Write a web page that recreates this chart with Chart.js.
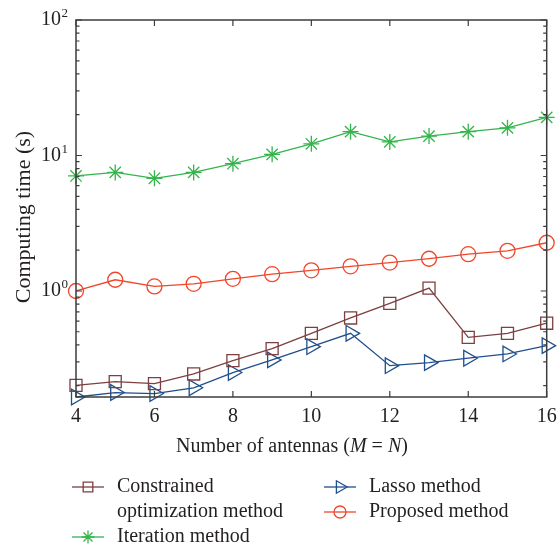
<!DOCTYPE html>
<html><head><meta charset="utf-8">
<script src="https://cdn.jsdelivr.net/npm/chart.js@4"></script>
<style>html,body{margin:0;padding:0;background:#fff}</style>
</head><body>
<canvas id="c" width="557" height="550" style="display:block"></canvas>
<script>
// ---- data ----
const antennas = [4, 5, 6, 7, 8, 9, 10, 11, 12, 13, 14, 15, 16];
const constrainedTime = [0.201, 0.214, 0.207, 0.244, 0.306, 0.375, 0.487, 0.632, 0.811, 1.05, 0.455, 0.487, 0.578];
const iterationTime = [7.06, 7.5, 6.79, 7.5, 8.7, 10.2, 12.2, 15.0, 12.6, 13.9, 15.0, 16.0, 19.1];
const lassoTime = [0.165, 0.178, 0.175, 0.193, 0.25, 0.31, 0.388, 0.487, 0.281, 0.296, 0.319, 0.343, 0.395];
const proposedTime = [1.0, 1.21, 1.08, 1.13, 1.23, 1.33, 1.42, 1.52, 1.62, 1.73, 1.87, 1.98, 2.27];
const xTicks = [4, 6, 8, 10, 12, 14, 16];
const yDecades = [1, 10, 100];
const seriesNames = [['Constrained', 'optimization method'], ['Iteration method'], ['Lasso method'], ['Proposed method']];

const FONT = '"Liberation Serif", "DejaVu Serif", serif';
const COL = { brown: '#7d3f40', green: '#34b54c', blue: '#1f4f8d', red: '#f0462b', axis: '#3c3c3c', text: '#231f20' };

function mk(label, data, color, style, radius, rot) {
  return {
    label, data: antennas.map((a, i) => ({ x: a, y: data[i] })),
    borderColor: color, backgroundColor: 'rgba(0,0,0,0)', borderWidth: 1.3,
    pointStyle: style, pointRadius: radius, pointRotation: rot || 0,
    pointBorderColor: color, pointBackgroundColor: 'rgba(0,0,0,0)', pointBorderWidth: 1.3,
    pointHoverRadius: radius, clip: false, tension: 0
  };
}

const decor = {
  id: 'decor',
  afterDatasetsDraw(chart) {
    const { ctx, chartArea: a, scales: { x, y } } = chart;
    ctx.save();
    // frame
    ctx.strokeStyle = COL.axis; ctx.lineWidth = 1.5;
    ctx.strokeRect(a.left, a.top, a.right - a.left, a.bottom - a.top);
    // ticks
    ctx.lineWidth = 1.2; ctx.beginPath();
    xTicks.forEach(v => {
      const px = x.getPixelForValue(v);
      ctx.moveTo(px, a.bottom); ctx.lineTo(px, a.bottom - 6);
      ctx.moveTo(px, a.top); ctx.lineTo(px, a.top + 6);
    });
    [0.1, 1, 10, 100].forEach(d => {
      for (let k = 1; k <= 9; k++) {
        const v = d * k;
        if (v < y.min * 0.999 || v > y.max * 1.001) continue;
        const len = k === 1 ? 6 : 3.5;
        const py = y.getPixelForValue(v);
        ctx.moveTo(a.left, py); ctx.lineTo(a.left + len, py);
        ctx.moveTo(a.right, py); ctx.lineTo(a.right - len, py);
      }
    });
    ctx.stroke();
    // y labels 10^n
    ctx.fillStyle = COL.text; ctx.textBaseline = 'middle';
    yDecades.forEach(v => {
      const py = y.getPixelForValue(v);
      const e = String(Math.round(Math.log10(v)));
      ctx.font = '13px ' + FONT; ctx.textAlign = 'right';
      const ew = ctx.measureText(e).width;
      ctx.fillText(e, a.left - 8, py - 6);
      ctx.font = '20px ' + FONT;
      ctx.fillText('10', a.left - 8 - ew - 0.5, py);
    });
    // y title
    ctx.save();
    ctx.translate(24, 217); ctx.rotate(-Math.PI / 2);
    ctx.font = '22px ' + FONT; ctx.textAlign = 'center';
    ctx.fillText('Computing time (s)', 0, 0);
    ctx.restore();
    // x title with italic M, N
    const parts = [['Number of antennas (', ''], ['M', 'italic '], [' = ', ''], ['N', 'italic '], [')', '']];
    let tw = 0;
    parts.forEach(p => { ctx.font = p[1] + '20px ' + FONT; tw += ctx.measureText(p[0]).width; });
    let cx = 292 - tw / 2;
    ctx.textAlign = 'left';
    parts.forEach(p => { ctx.font = p[1] + '20px ' + FONT; ctx.fillText(p[0], cx, 447); cx += ctx.measureText(p[0]).width; });
    // legend
    const pos = [[72, 487], [72, 537], [324, 487], [324, 512]];
    chart.data.datasets.forEach((ds, i) => {
      const [lx, ly] = pos[i];
      ctx.strokeStyle = ds.borderColor; ctx.lineWidth = 1.3;
      ctx.beginPath(); ctx.moveTo(lx, ly); ctx.lineTo(lx + 32, ly); ctx.stroke();
      ctx.fillStyle = 'rgba(0,0,0,0)';
      Chart.helpers.drawPoint(ctx, { pointStyle: ds.pointStyle, rotation: ds.pointRotation, radius: ds.pointRadius * 0.8, borderWidth: 1.3 }, lx + 16, ly);
      ctx.fillStyle = COL.text; ctx.font = '20px ' + FONT; ctx.textAlign = 'left';
      seriesNames[i].forEach((t, j) => ctx.fillText(t, lx + 45, ly + j * 25));
    });
    ctx.restore();
  }
};

new Chart(document.getElementById('c'), {
  type: 'line',
  data: {
    datasets: [
      mk(seriesNames[0].join(' '), constrainedTime, COL.brown, 'rect', 8.5),
      mk(seriesNames[1][0], iterationTime, COL.green, 'star', 8),
      mk(seriesNames[2][0], lassoTime, COL.blue, 'triangle', 9, 90),
      mk(seriesNames[3][0], proposedTime, COL.red, 'circle', 7.5)
    ]
  },
  options: {
    responsive: false, animation: false, devicePixelRatio: 1,
    layout: { padding: { left: 68, right: 2, top: 20, bottom: 121 } },
    plugins: { legend: { display: false }, tooltip: { enabled: false } },
    scales: {
      x: {
        type: 'linear', min: 4, max: 16,
        afterBuildTicks: s => { s.ticks = xTicks.map(v => ({ value: v })); },
        grid: { display: false }, border: { display: false },
        ticks: { font: { family: FONT, size: 20 }, color: COL.text, padding: 0, maxRotation: 0 }
      },
      y: {
        type: 'logarithmic', min: 0.165, max: 100,
        grid: { display: false }, border: { display: false },
        ticks: { display: false }
      }
    }
  },
  plugins: [decor]
});
</script>
</body></html>
